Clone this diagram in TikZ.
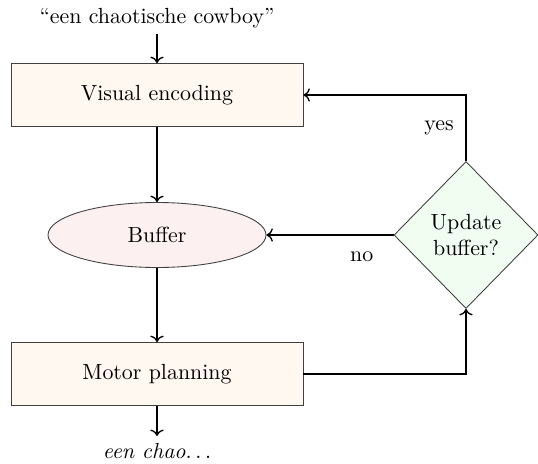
\documentclass[tikz,border=0pt]{standalone}
\usetikzlibrary{shapes.geometric,arrows.meta}
\definecolor{procfill}{HTML}{FFF8F0}
\definecolor{bufffill}{HTML}{FDF0F1}
\definecolor{decfill}{HTML}{F0FDF0}
\newlength{\pxu}
\setlength{\pxu}{0.4567pt}
\tikzset{
  procbox/.style={rectangle, draw=black!75, fill=procfill, minimum width=292\pxu, minimum height=63\pxu, inner sep=0pt},
  buffnode/.style={ellipse, draw=black!75, fill=bufffill, minimum width=218\pxu, minimum height=65\pxu, inner sep=0pt},
  decnode/.style={diamond, draw=black!75, fill=decfill, minimum width=144\pxu, minimum height=147\pxu, inner sep=0pt, align=center},
  flow/.style={->, semithick},
  plain/.style={inner sep=0pt}
}
\begin{document}
\begin{tikzpicture}[x=\pxu, y=-\pxu]
  \useasboundingbox (0,0) rectangle (538,463);
  \node[plain] (in) at (157,18) {``een chaotische cowboy''};
  \node[procbox] (ve) at (157,95) {Visual encoding};
  \node[buffnode] (buf) at (157,235) {Buffer};
  \node[procbox] (mp) at (157,374) {Motor planning};
  \node[decnode] (dec) at (466,235) {Update\\buffer?};
  \node[plain] (out) at (157,451) {\itshape een chao$\ldots$};
  \coordinate (outtip) at (157,436);
  \coordinate (intop) at (157,34);
  \draw[flow] (intop) -- (ve.north);
  \draw[flow] (ve) -- (buf);
  \draw[flow] (buf) -- (mp);
  \draw[flow] (mp.south) -- (outtip);
  \draw[flow] (mp.east) -| (dec.south);
  \draw[flow] (dec.north) |- node[pos=0.25, left=2pt] {yes} (ve.east);
  \draw[flow] (dec.west) -- node[below=4pt, pos=0.25] {no} (buf.east);
\end{tikzpicture}
\end{document}
